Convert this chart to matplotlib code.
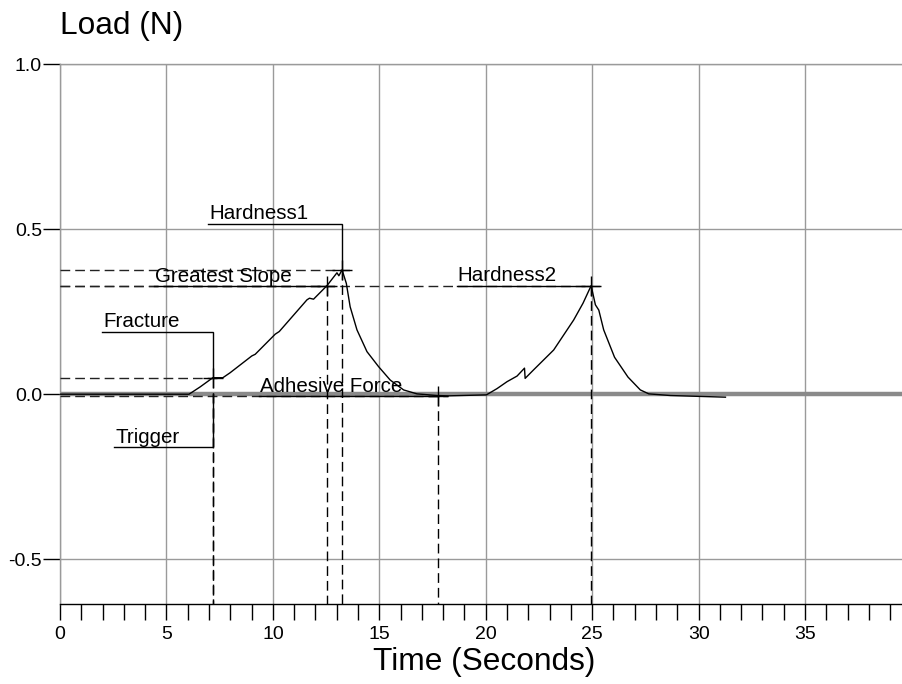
import matplotlib
matplotlib.use("Agg")
import matplotlib.pyplot as plt

plt.rcParams["font.family"] = ["Liberation Sans", "DejaVu Sans"]

# Texture analyser trace: time (s) and load (N)
time_s = [0.0, 6.06, 6.58, 7.18, 7.65, 7.99, 9.01, 9.17, 10.11, 10.30, 11.60, 11.72,
          11.91, 12.54, 13.01, 13.10, 13.25, 13.45, 13.63, 13.95, 14.42, 14.96, 15.51,
          16.14, 16.77, 17.71, 18.23, 20.03, 20.53, 21.00, 21.47, 21.82, 21.85, 22.25,
          23.19, 24.13, 24.57, 24.95, 25.15, 25.31, 25.54, 26.05, 26.68, 27.26, 27.66,
          28.68, 31.26]
load_n = [0.0, 0.0, 0.022, 0.050, 0.050, 0.065, 0.116, 0.121, 0.182, 0.190, 0.286, 0.291,
          0.288, 0.329, 0.368, 0.359, 0.377, 0.336, 0.265, 0.195, 0.129, 0.084, 0.043,
          0.013, 0.001, -0.004, -0.005, -0.002, 0.017, 0.038, 0.055, 0.079, 0.048, 0.074,
          0.134, 0.225, 0.276, 0.329, 0.271, 0.255, 0.195, 0.112, 0.052, 0.013, 0.001,
          -0.004, -0.009]

# Detected events on the trace
event_names = ["Trigger", "Fracture", "Greatest Slope", "Hardness1", "Adhesive Force", "Hardness2"]
event_time = [7.18, 7.18, 12.54, 13.25, 17.77, 24.95]
event_load = [0.0, 0.050, 0.329, 0.377, -0.005, 0.329]

x_major = [0, 5, 10, 15, 20, 25, 30, 35]
y_major = [-0.5, 0.0, 0.5, 1.0]
y_labels = ["-0.5", "0.0", "0.5", "1.0"]

XMIN, XMAX = 0.0, 39.6
YMIN, YMAX = -0.635, 1.0

fig = plt.figure(figsize=(9.03, 6.84), dpi=100)
ax = fig.add_axes([60 / 903, 1 - 603.7 / 684, 1 - 60 / 903, (603.7 - 64.3) / 684])
ax.set_xlim(XMIN, XMAX)
ax.set_ylim(YMIN, YMAX)

# grid
grid_c = "#9a9a9a"
for xv in x_major:
    ax.axvline(xv, color=grid_c, lw=1.0, zorder=1)
for yv in y_major:
    if yv != 0.0:
        ax.axhline(yv, color=grid_c, lw=1.0, zorder=1)
# zero baseline
ax.axhline(0.0, color="#8a8a8a", lw=3.2, zorder=2)

# spines
ax.spines["right"].set_visible(False)
ax.spines["top"].set_color(grid_c)
ax.spines["left"].set_color(grid_c)
ax.spines["bottom"].set_color("black")
for s in ax.spines.values():
    s.set_linewidth(1.0)

# ticks
ax.set_xticks(range(0, 40))
ax.set_xticklabels([str(v) if v in x_major else "" for v in range(0, 40)])
ax.set_yticks(y_major)
ax.set_yticklabels(y_labels)
ax.tick_params(axis="x", direction="out", length=11.2, width=1.0, color="black",
               labelsize=14, pad=4.5)
ax.tick_params(axis="y", direction="out", length=12, width=1.0, color="black",
               labelsize=14, pad=1)

dash = (0, (7, 3.6))
ev = dict(zip(event_names, zip(event_time, event_load)))

# horizontal reference dashes from the load axis
h_ext = {"Fracture": 7.62, "Hardness1": 13.78, "Greatest Slope": 13.1,
         "Hardness2": 25.44, "Adhesive Force": 18.24}
for name, xe in h_ext.items():
    ax.plot([XMIN, xe], [ev[name][1], ev[name][1]], color="#222222", lw=1.0,
            ls=dash, zorder=3)

# vertical reference dashes down to the time axis
for name in event_names:
    t, l = ev[name]
    ax.plot([t, t], [l, YMIN], color="black", lw=1.0, ls=dash, zorder=3)

# the load trace
ax.plot(time_s, load_n, color="black", lw=1.0, zorder=4)

# event markers
for name in event_names[1:]:
    t, l = ev[name]
    ax.plot([t], [l], marker="+", ms=15, mew=1.0, color="black", zorder=5)

# labels with leader lines
fs = 14.8
def leader(label, tx, ty, uy, name):
    t, l = ev[name]
    ax.text(tx, ty, label, fontsize=fs, ha="left", va="baseline", zorder=6)
    ax.plot([tx - 0.05, t, t], [uy, uy, l], color="black", lw=1.0, zorder=5,
            solid_joinstyle="miter")

leader("Hardness1", 7.02, 0.530, 0.515, "Hardness1")
leader("Greatest Slope", 4.47, 0.341, 0.329, "Greatest Slope")
leader("Fracture", 2.04, 0.203, 0.188, "Fracture")
leader("Trigger", 2.59, -0.147, -0.161, "Trigger")
leader("Adhesive Force", 9.40, 0.006, -0.005, "Adhesive Force")
leader("Hardness2", 18.68, 0.344, 0.329, "Hardness2")

# axis titles
fig.text(60 / 903, 1 - 34 / 684, "Load (N)", fontsize=22.8, ha="left", va="baseline")
fig.text(484 / 903, 1 - 670 / 684, "Time (Seconds)", fontsize=22.8, ha="center",
         va="baseline")

fig.savefig("out.png", dpi=100)
